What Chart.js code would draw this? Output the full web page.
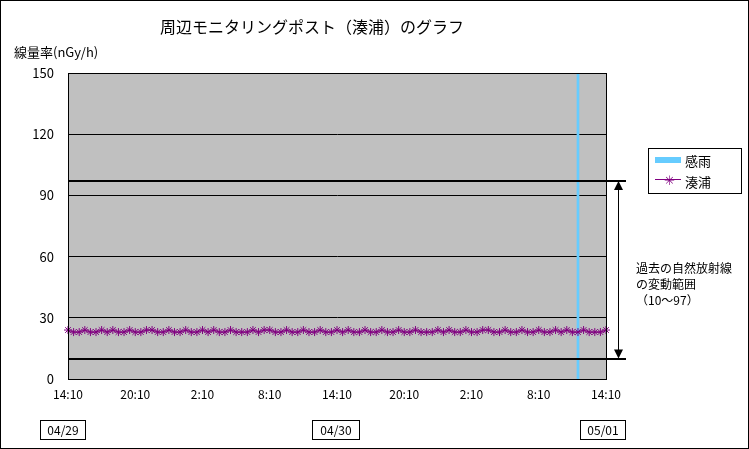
<!DOCTYPE html>
<html><head><meta charset="utf-8">
<script src="https://cdn.jsdelivr.net/npm/chart.js@4"></script>
<style>
body{margin:0;background:#fff;font-family:"Noto Sans CJK JP",sans-serif;}
#wrap{position:relative;width:749px;height:449px;}
#frame{position:absolute;left:0;top:0;width:747px;height:447px;border:1px solid #000;pointer-events:none;}
.t{position:absolute;font-size:12px;color:#000;white-space:nowrap;}
.box{position:absolute;border:1px solid #000;font-size:12px;text-align:center;line-height:18px;height:18px;}
</style></head><body>
<div id="wrap">
<canvas id="c" width="749" height="449"></canvas>
<div id="frame"></div>
<div class="t" style="left:160px;top:14px;font-size:16px;">周辺モニタリングポスト（湊浦）のグラフ</div>
<div class="t" style="left:14px;top:42px;font-size:13px;">線量率(nGy/h)</div>
<div class="box" style="left:40px;top:420px;width:44px;">04/29</div>
<div class="box" style="left:312px;top:420px;width:46px;">04/30</div>
<div class="box" style="left:580px;top:420px;width:44px;">05/01</div>
<div style="position:absolute;left:648px;top:148px;width:92px;height:44px;border:1px solid #000;background:#fff;"></div>
<div style="position:absolute;left:655px;top:157px;width:26px;height:6px;background:#66CCFF;"></div>
<div class="t" style="left:685px;top:151px;font-size:13px;">感雨</div>
<div style="position:absolute;left:655px;top:179px;width:26px;height:1px;background:#800080;"></div>
<div class="t" style="left:664px;top:170px;color:#800080;font-size:13px;">✳</div>
<div class="t" style="left:685px;top:172px;font-size:13px;">湊浦</div>
<div class="t" style="left:636px;top:260px;line-height:16px;">過去の自然放射線<br>の変動範囲<br>（10～97）</div>
</div>
<script>
const labels = [];
const dayLabels = [];
for (let i = 0; i <= 96; i++) { const m = (14*60+10 + i*30) % 1440; labels.push(Math.floor(m/60)+':'+String(m%60).padStart(2,'0')); }
const minatoura = [24,23,23,24,23,23,24,23,24,23,23,24,23,23,24,24,23,23,24,23,23,24,23,23,24,23,24,23,23,24,23,23,23,24,23,24,
 24,23,23,24,23,23,24,23,23,24,23,23,24,23,24,23,23,24,23,23,24,23,23,24,23,23,24,23,23,23,24,23,24,23,23,24,
 23,23,24,24,23,23,24,23,23,24,23,23,24,23,23,24,23,24,23,23,24,23,23,23,24];
const rain = labels.map((l,i)=> i===91 ? 150 : null);
const rangeLow = 10, rangeHigh = 97;
const yTicks = [0,30,60,90,120,150];

const bg = {id:'bg',beforeDraw(ch){const a=ch.chartArea,c=ch.ctx;c.save();c.fillStyle='#C0C0C0';c.fillRect(a.left,a.top,a.right-a.left,a.bottom-a.top);c.restore();},
 afterDraw(ch){const a=ch.chartArea,c=ch.ctx,y=ch.scales.y;c.save();c.strokeStyle='#000';c.lineWidth=2;
  [rangeLow,rangeHigh].forEach(v=>{const py=Math.round(y.getPixelForValue(v));c.beginPath();c.moveTo(a.left,py);c.lineTo(a.right+20,py);c.stroke();});
  c.lineWidth=1;c.strokeRect(a.left+0.5,a.top+0.5,a.right-a.left,a.bottom-a.top);
  const ax=a.right+12,y1=y.getPixelForValue(rangeHigh),y2=y.getPixelForValue(rangeLow);
  c.beginPath();c.moveTo(ax+0.5,y1+8);c.lineTo(ax+0.5,y2-8);c.stroke();c.fillStyle='#000';
  c.beginPath();c.moveTo(ax-4,y1+9);c.lineTo(ax+5,y1+9);c.lineTo(ax+0.5,y1);c.fill();
  c.beginPath();c.moveTo(ax-4,y2-9);c.lineTo(ax+5,y2-9);c.lineTo(ax+0.5,y2);c.fill();
  c.restore();}};

new Chart(document.getElementById('c'),{
 data:{labels,datasets:[
  {type:'bar',label:'感雨',data:rain,backgroundColor:'#66CCFF',barThickness:2,order:2},
  {type:'line',label:'湊浦',data:minatoura,borderColor:'#800080',borderWidth:1,pointStyle:'star',pointRadius:4,pointBorderColor:'#800080',pointBorderWidth:1,order:1}
 ]},
 options:{responsive:false,animation:false,
  layout:{padding:{top:73,right:143,left:0,bottom:0}},
  plugins:{legend:{display:false},tooltip:{enabled:false}},
  scales:{
   x:{offset:false,afterFit(s){s.height=70;},grid:{display:false,drawTicks:false},border:{color:'#000'},
     ticks:{autoSkip:false,maxRotation:0,color:'#000',font:{size:12,family:'Noto Sans CJK JP'},padding:8,
       callback(v,i){return i%12===0?labels[i]:'';}}},
   y:{min:0,max:150,afterFit(s){s.width=68;},afterBuildTicks(s){s.ticks=yTicks.map(v=>({value:v}));},
     border:{color:'#000'},grid:{color:'#000',borderDash:[2,2],drawTicks:false,lineWidth:c=>c.tick&&(c.tick.value===0||c.tick.value===150)?0:1},
     ticks:{color:'#000',font:{size:13,family:'Noto Sans CJK JP'},padding:14}}
  }},
 plugins:[bg]});
</script></body></html>
